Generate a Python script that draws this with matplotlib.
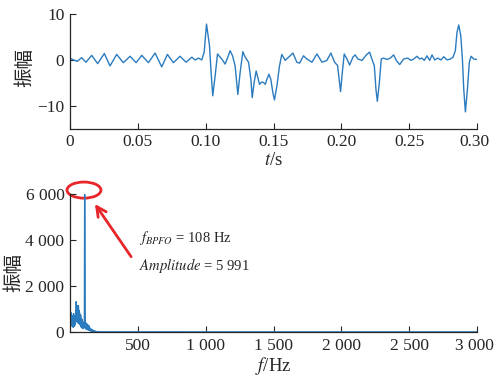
import numpy as np
import matplotlib
matplotlib.use('Agg')
import matplotlib.pyplot as plt
from matplotlib.patches import Ellipse
from matplotlib.transforms import ScaledTranslation

plt.rcParams['font.family'] = ['Liberation Serif', 'DejaVu Serif']
plt.rcParams['mathtext.fontset'] = 'stix'
plt.rcParams['axes.unicode_minus'] = True

# --- time signal ---
t = [0, 0.0025, 0.0054, 0.0086, 0.0118, 0.0160, 0.0204, 0.0253, 0.0295, 0.0344,
     0.0393, 0.0443, 0.0487, 0.0529, 0.0578, 0.0627, 0.0676, 0.0718, 0.0762, 0.0811,
     0.0856, 0.0898, 0.0922, 0.0947, 0.0971, 0.0989, 0.1006, 0.1028, 0.1040, 0.1052,
     0.1070, 0.1087, 0.1107, 0.1126, 0.1143, 0.1163, 0.1180, 0.1198, 0.1217, 0.1237,
     0.1254, 0.1274, 0.1291, 0.1316, 0.1333, 0.1343, 0.1357, 0.1372, 0.1384, 0.1397,
     0.1414, 0.1426, 0.1439, 0.1451, 0.1466, 0.1480, 0.1495, 0.1507, 0.1525, 0.1544,
     0.1561, 0.1586, 0.1611, 0.1643, 0.1672, 0.1692, 0.1721, 0.1746, 0.1783, 0.1820,
     0.1857, 0.1893, 0.1923, 0.1950, 0.1972, 0.1984, 0.1994, 0.2007, 0.2021, 0.2041,
     0.2061, 0.2085, 0.2102, 0.2122, 0.2152, 0.2184, 0.2208, 0.2225, 0.2243, 0.2255,
     0.2265, 0.2280, 0.2294, 0.2311, 0.2336, 0.2361, 0.2385, 0.2405, 0.2430, 0.2459,
     0.2489, 0.2513, 0.2533, 0.2557, 0.2577, 0.2594, 0.2611, 0.2631, 0.2651, 0.2668,
     0.2688, 0.2710, 0.2734, 0.2754, 0.2779, 0.2803, 0.2823, 0.2840, 0.2852, 0.2865,
     0.2880, 0.2892, 0.2902, 0.2914, 0.2929, 0.2943, 0.2956, 0.2975, 0.3000]
x = [0.4, 0.0, -0.3, 0.5, -0.5, 1.0, -0.8, 1.4, -1.3, 1.2,
     -0.6, 0.8, -0.6, 1.0, -0.6, 1.5, -1.5, 1.2, -0.6, 0.8,
     -0.5, 0.6, 0.0, 0.4, 0.0, 1.7, 7.8, 3.1, -2.7, -7.8,
     -3.4, 1.3, 0.6, -0.1, -0.9, 0.6, 2.0, 0.9, -1.3, -7.5,
     -2.7, 1.8, 0.6, -0.5, -4.2, -8.2, -4.9, -2.4, -3.8, -5.3,
     -4.8, -4.9, -5.3, -4.2, -3.1, -4.2, -7.1, -8.7, -5.6, -1.3,
     1.2, -0.1, 0.6, 1.5, -0.5, -0.7, 0.9, 0.2, -0.5, 1.3,
     -0.5, -0.1, 1.5, -0.5, -1.2, -4.2, -6.9, -2.7, 1.3, 0.2,
     -1.1, 0.6, 1.1, 0.2, -0.1, 1.1, 1.7, 0.2, -1.3, -6.4,
     -9.0, -4.9, 0.2, 0.4, 0.1, 0.4, 1.1, -0.1, -1.0, 0.2,
     0.4, -0.1, 0.2, 0.8, 0.2, 0.4, -0.1, 0.9, -0.1, 1.1,
     0.0, 0.4, 0.0, 0.7, 0.0, 0.2, 0.6, 2.0, 6.0, 7.6,
     5.3, 0.2, -6.4, -11.3, -6.4, -0.5, 0.8, 0.2, 0.1]

# --- envelope spectrum: 2 Hz bins from 0 to 200 Hz, then the flat tail ---
spec_low = [300, 900, 500, 850, 400, 750, 300, 650, 250, 700,
            300, 550, 200, 800, 350, 600, 250, 700, 300, 550,
            450, 950, 500, 1320, 600, 1150, 450, 900, 400, 1000,
            550, 1150, 450, 950, 350, 850, 400, 700, 300, 750,
            250, 600, 200, 500, 250, 550, 150, 450, 200, 400,
            150, 350, 200, 450, 5991, 3050, 300, 400, 150, 350,
            120, 380, 150, 300, 100, 320, 120, 250, 90, 280,
            80, 200, 70, 180, 60, 150, 50, 130, 40, 110,
            40, 90, 30, 80, 25, 70, 20, 55, 20, 45,
            15, 40, 15, 30, 12, 25, 10, 20, 10, 15, 10]
f_tail = [250, 500, 1000, 2000, 3000]
spec_tail = [8, 6, 5, 5, 5]

f = np.concatenate([np.arange(len(spec_low)) * 2.0, f_tail])
spec = np.concatenate([spec_low, spec_tail])

blue = '#2b7bbf'
dark = '#262626'
red = '#e8262a'
cjk = ['Noto Sans CJK SC', 'DejaVu Sans']

fig = plt.figure(figsize=(4.94, 3.77), dpi=100)
ax1 = fig.add_axes([0.1417, 0.658, 0.824, 0.305])
ax2 = fig.add_axes([0.1417, 0.1194, 0.824, 0.366])

for ax in (ax1, ax2):
    for s in ('top', 'right'):
        ax.spines[s].set_visible(False)
    for s in ('left', 'bottom'):
        ax.spines[s].set_color(dark)
        ax.spines[s].set_linewidth(0.9)
    ax.tick_params(direction='in', length=4, width=0.8, colors=dark,
                   labelsize=12.5, pad=4)

# top panel
ax1.plot(t, x, color=blue, lw=1.0)
ax1.set_xlim(0, 0.3)
ax1.set_ylim(-15, 10)
ax1.set_xticks([0, 0.05, 0.10, 0.15, 0.20, 0.25, 0.30])
ax1.set_xticklabels(['0', '0.05', '0.10', '0.15', '0.20', '0.25', '0.30'])
ax1.set_yticks([-10, 0, 10])
ax1.set_yticklabels(['\u221210', '0', '10'])
ax1.set_xlabel(r'$t$/s', fontsize=13.5, color=dark, labelpad=1)
ax1.set_ylabel('振幅', fontsize=14, family=cjk, color=dark)
ax1.yaxis.set_label_coords(-0.084, 0.53)

# bottom panel
ax2.plot(f, spec, color=blue, lw=1.0)
ax2.set_xlim(0, 3000)
ax2.set_ylim(0, 6000)
ax2.set_xticks([500, 1000, 1500, 2000, 2500, 3000])
ax2.set_xticklabels(['500', '1 000', '1 500', '2 000', '2 500', '3 000'])
ax2.set_yticks([0, 2000, 4000, 6000])
ax2.set_yticklabels(['0', '2 000', '4 000', '6 000'])
ax2.set_xlabel(r'$f$/Hz', fontsize=13.5, color=dark, labelpad=1)
ax2.set_ylabel('振幅', fontsize=14, family=cjk, color=dark)
ax2.yaxis.set_label_coords(-0.113, 0.43)

# keep the last tick labels inside the figure
for ax in (ax1, ax2):
    lab = ax.get_xticklabels()[-1]
    lab.set_transform(lab.get_transform() +
                      ScaledTranslation(-3 / 100, 0, fig.dpi_scale_trans))

# highlight of the BPFO peak
ax2.add_patch(Ellipse((103, 6170), 250, 700, fill=False, edgecolor=red,
                      lw=2, clip_on=False))
ax2.annotate('', xy=(172, 5665), xytext=(462, 3174),
             arrowprops=dict(arrowstyle='->,head_length=0.7,head_width=0.35',
                             color=red, lw=2))
ax2.text(506, 4090, r'$f_{BPFO}$ = 108 Hz', fontsize=10.5, color=dark,
         va='center', ha='left')
ax2.text(506, 2870, r'$Amplitude$ = 5 991', fontsize=10.5, color=dark,
         va='center', ha='left')

fig.savefig('out.png', dpi=100)
